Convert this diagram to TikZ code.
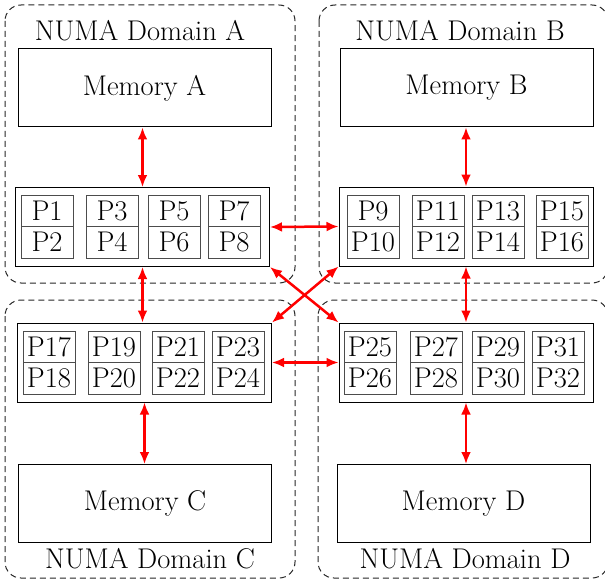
\documentclass[tikz,border=0pt]{standalone}
\usetikzlibrary{arrows.meta}

\tikzset{
  numabox/.style={draw=black!85, dash pattern=on 6pt off 4pt, line width=1pt, rounded corners=16pt},
  dlabel/.style={inner sep=0pt},
  mem/.style={draw, line width=1pt, minimum width=253pt, minimum height=78pt},
  chip/.style={draw, line width=1pt, minimum width=254pt, minimum height=79pt},
  core/.style={draw=black!70, line width=1pt, minimum width=52pt, minimum height=31.5pt, inner sep=0pt},
  link/.style={red, line width=2.5pt, {Latex[length=12pt,width=10pt]}-{Latex[length=12pt,width=10pt]}}
}

\begin{document}
\begin{tikzpicture}[x=1pt, y=-1pt, every node/.style={font=\fontsize{28.5}{31}\selectfont}]
        \useasboundingbox (0,0) rectangle (605,583);

        % domains
        \draw[numabox] (5,5) rectangle (295,283);
        \draw[numabox] (319,5) rectangle (608,283);
        \draw[numabox] (5,300) rectangle (295,578);
        \draw[numabox] (318,300) rectangle (608,578);
        \node[dlabel] (labA) at (140,31) {NUMA Domain A};
        \node[dlabel] (labB) at (460,31) {NUMA Domain B};
        \node[dlabel] (labC) at (150,559) {NUMA Domain C};
        \node[dlabel] (labD) at (465,559) {NUMA Domain D};

        % memories
        \node[mem] (memA) at (144.5,88) {Memory A};
        \node[mem] (memB) at (466.5,88) {Memory B};
        \node[mem] (memC) at (145,503.5) {Memory C};
        \node[mem] (memD) at (463.5,503.5) {Memory D};

        % processor blocks
        \node[chip] (chipA) at (142.5,227) {};
        \node[chip] (chipB) at (466,226.5) {};
        \node[chip] (chipC) at (144.5,362.5) {};
        \node[chip] (chipD) at (466,362.5) {};

        \foreach \blk/\ytop/\base/\xlist in {A/195/0/{21,86,148,208}, B/195/8/{347,412,472,536},
                                              C/331/16/{23,88,152,212}, D/331/24/{344,410,472,532}} {
          \foreach \xl [count=\i] in \xlist {
            \pgfmathtruncatemacro{\ptop}{\base+2*\i-1}
            \pgfmathtruncatemacro{\pbot}{\base+2*\i}
            \node[core] (p\ptop) at (\xl+26,\ytop+15.75) {P\ptop};
            \node[core] (p\pbot) at (\xl+26,\ytop+47.25) {P\pbot};
          }
        }

        % links
        \draw[link] (chipA.north |- memA.south) -- (chipA.north);
        \draw[link] (chipB.north |- memB.south) -- (chipB.north);
        \draw[link] (chipC.south) -- (chipC.south |- memC.north);
        \draw[link] (chipD.south) -- (chipD.south |- memD.north);
        \draw[link] (chipA.east) -- (chipB.west);
        \draw[link] (chipC.east) -- (chipD.west);
        \draw[link] (chipA.south) -- (chipA.south |- chipC.north);
        \draw[link] (chipB.south) -- (chipB.south |- chipD.north);
        \draw[link] (chipA.south east) -- (chipD.north west);
        \draw[link] (chipC.north east) -- (chipB.south west);

    \end{tikzpicture}
\end{document}
